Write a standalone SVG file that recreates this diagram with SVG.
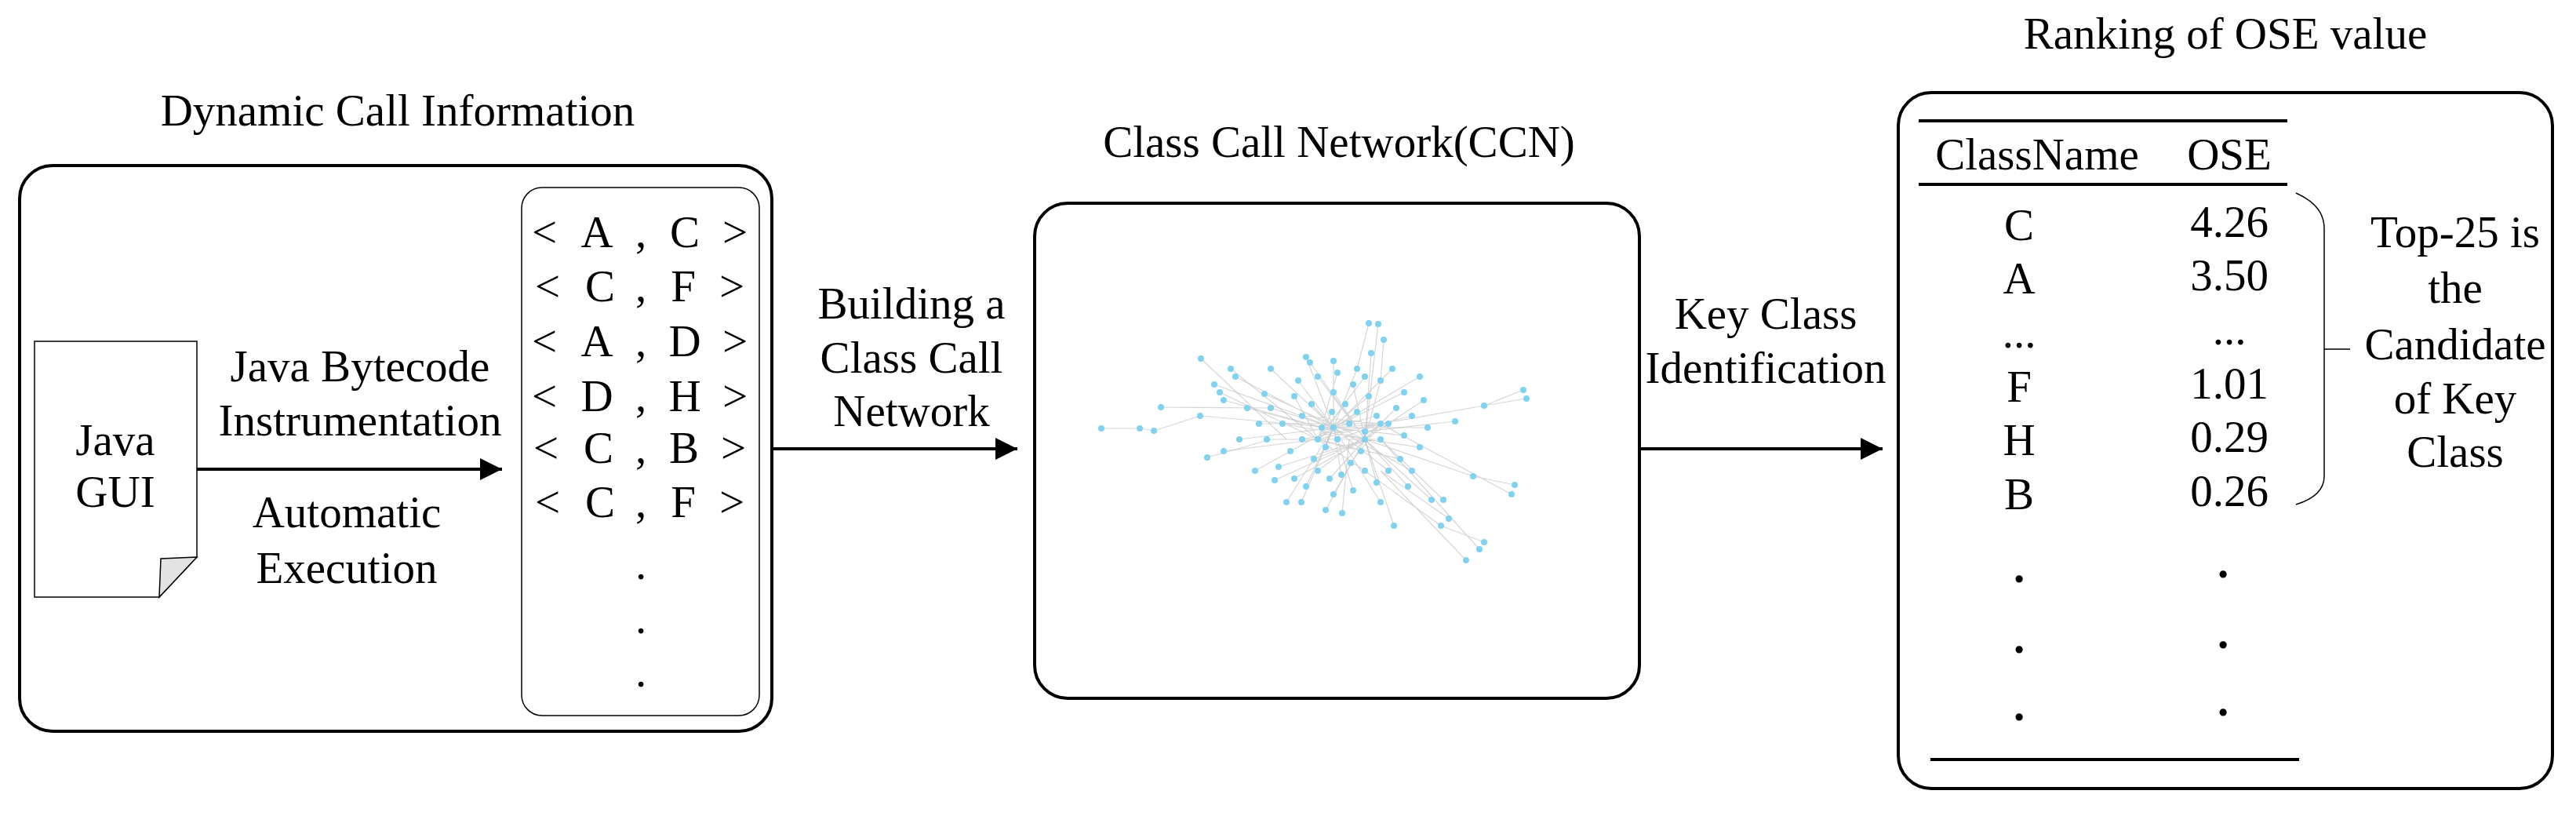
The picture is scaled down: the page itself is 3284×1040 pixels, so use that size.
<svg xmlns="http://www.w3.org/2000/svg" width="3284" height="1040" viewBox="0 0 3284 1040">
<style>
text{font-family:"Liberation Serif","Times New Roman",serif;font-size:57px;fill:#000}
.c{text-anchor:middle}
.box{fill:#fff;stroke:#000;stroke-width:4}
.ln{stroke:#000;stroke-width:4;fill:none}
.e{stroke:#bbb;stroke-width:1.2;fill:none;opacity:.6}
.n{fill:#7fd3ef}
.b{font-weight:bold}
</style>
<defs>
<marker id="ah2" viewBox="0 0 10 10" refX="10" refY="5" markerWidth="28" markerHeight="28" markerUnits="userSpaceOnUse" orient="auto"><path d="M0,0 L10,5 L0,10 z" fill="#000"/></marker>
</defs>
<rect width="3284" height="1040" fill="#fff"/>

<g id="dynamic-call-info">
<text class="c" x="507" y="160">Dynamic Call Information</text>
<rect class="box" x="25" y="211" width="959" height="721" rx="42"/>
</g>
<g id="java-gui">
<path d="M44,435 H251 V710 L203,761 H44 Z" fill="#fff" stroke="#000" stroke-width="1.5"/>
<path d="M251,710 L205,712 L203,761 Z" fill="#e3e3e3" stroke="#000" stroke-width="1.5"/>
<text class="c" x="147" y="580">Java</text>
<text class="c" x="147" y="646">GUI</text>
</g>
<g id="call-list">
<rect x="665" y="239" width="303" height="673" rx="26" fill="#fff" stroke="#000" stroke-width="1.5"/>
<text class="c" y="315"><tspan x="694">&lt;</tspan><tspan x="761">A</tspan><tspan x="817">,</tspan><tspan x="873">C</tspan><tspan x="937">&gt;</tspan></text>
<text class="c" y="384"><tspan x="698">&lt;</tspan><tspan x="765">C</tspan><tspan x="817">,</tspan><tspan x="871">F</tspan><tspan x="933">&gt;</tspan></text>
<text class="c" y="454"><tspan x="694">&lt;</tspan><tspan x="761">A</tspan><tspan x="817">,</tspan><tspan x="873">D</tspan><tspan x="937">&gt;</tspan></text>
<text class="c" y="524"><tspan x="694">&lt;</tspan><tspan x="761">D</tspan><tspan x="817">,</tspan><tspan x="873">H</tspan><tspan x="937">&gt;</tspan></text>
<text class="c" y="590"><tspan x="696">&lt;</tspan><tspan x="763">C</tspan><tspan x="817">,</tspan><tspan x="872">B</tspan><tspan x="935">&gt;</tspan></text>
<text class="c" y="659"><tspan x="698">&lt;</tspan><tspan x="765">C</tspan><tspan x="817">,</tspan><tspan x="871">F</tspan><tspan x="933">&gt;</tspan></text>
<text class="c" x="817" y="738">.</text>
<text class="c" x="817" y="807">.</text>
<text class="c" x="817" y="875">.</text>
</g>
<g id="ccn">
<text class="c" x="1707" y="200">Class Call Network(CCN)</text>
<rect class="box" x="1319" y="259" width="771" height="631" rx="42"/>
<path class="e" d="M1404,546L1453,546L1471,549L1530,530L1700,545M1480,519L1620,520M1531,457L1640,560M1569,470L1680,560M1745,412L1730,470M1757,413L1740,560M1764,433L1760,485M1942,497L1892,517L1760,540M1946,508L1892,517M1931,618L1878,607L1740,560M1927,630L1760,540M1892,691L1837,670L1740,600M1886,700L1760,560M1869,714L1760,600M1777,670L1740,560M1711,654L1720,560M1659,640L1700,545M1539,583L1620,560M1855,537L1740,550M1847,661L1760,600M1825,637L1740,560M1840,637L1760,560"/>
<path class="e" d="M1620,520L1700,545M1635,540L1740,560M1650,505L1680,560M1660,530L1760,540M1672,515L1700,545M1685,545L1740,560M1698,525L1680,560M1705,560L1760,540M1690,570L1700,545M1675,585L1740,560M1660,560L1760,540M1645,575L1700,545M1630,595L1740,560M1615,560L1680,560M1605,540L1760,540M1700,500L1740,560M1715,515L1680,560M1720,540L1700,545M1730,525L1680,560M1740,550L1700,545M1735,575L1680,560M1722,590L1760,540M1710,605L1700,545M1695,610L1740,560M1680,600L1760,540M1665,620L1700,545M1650,610L1740,560M1745,505L1680,560M1755,530L1700,545M1760,560L1680,560M1770,540L1700,545M1780,520L1740,560M1790,555L1700,545M1785,585L1680,560M1770,600L1700,545M1755,615L1740,560M1740,600L1680,560M1725,625L1700,545M1700,630L1740,560M1760,640L1700,545M1690,650L1740,560M1640,640L1700,545M1625,612L1740,560M1600,600L1700,545M1612,502L1740,560M1655,485L1700,545M1680,480L1740,560M1705,475L1680,560M1730,470L1700,545M1760,485L1740,560M1790,500L1700,545M1800,530L1680,560M1810,570L1740,560M1800,600L1700,545M1795,620L1740,560M1775,470L1700,545M1748,450L1740,560M1700,460L1700,545M1670,462L1740,560M1620,470L1700,545M1590,520L1740,560M1580,560L1700,545M1560,575L1680,560M1575,480L1700,545M1555,500L1680,560M1548,490L1700,545M1560,510L1740,560M1810,480L1700,545M1815,510L1740,560M1820,545L1700,545M1740,480L1680,560M1725,490L1740,560M1665,455L1700,545"/>
<g class="n">
<circle cx="1404" cy="546" r="4"/><circle cx="1453" cy="546" r="4"/><circle cx="1471" cy="549" r="4"/><circle cx="1480" cy="519" r="4"/><circle cx="1531" cy="457" r="4"/><circle cx="1569" cy="470" r="4"/><circle cx="1530" cy="530" r="4"/>
<circle cx="1745" cy="412" r="4"/><circle cx="1757" cy="413" r="4"/><circle cx="1764" cy="433" r="4"/><circle cx="1942" cy="497" r="4"/><circle cx="1946" cy="508" r="4"/><circle cx="1931" cy="618" r="4"/><circle cx="1927" cy="630" r="4"/><circle cx="1892" cy="691" r="4"/><circle cx="1886" cy="700" r="4"/><circle cx="1869" cy="714" r="4"/><circle cx="1777" cy="670" r="4"/><circle cx="1711" cy="654" r="4"/><circle cx="1659" cy="640" r="4"/><circle cx="1539" cy="583" r="4"/><circle cx="1855" cy="537" r="4"/><circle cx="1892" cy="517" r="4"/><circle cx="1878" cy="607" r="4"/><circle cx="1847" cy="661" r="4"/><circle cx="1837" cy="670" r="4"/><circle cx="1825" cy="637" r="4"/><circle cx="1840" cy="637" r="4"/>
<circle cx="1620" cy="520" r="4"/><circle cx="1635" cy="540" r="4"/><circle cx="1650" cy="505" r="4"/><circle cx="1660" cy="530" r="4"/><circle cx="1672" cy="515" r="4"/><circle cx="1685" cy="545" r="4"/><circle cx="1698" cy="525" r="4"/><circle cx="1705" cy="560" r="4"/><circle cx="1690" cy="570" r="4"/><circle cx="1675" cy="585" r="4"/><circle cx="1660" cy="560" r="4"/><circle cx="1645" cy="575" r="4"/><circle cx="1630" cy="595" r="4"/><circle cx="1615" cy="560" r="4"/><circle cx="1605" cy="540" r="4"/><circle cx="1700" cy="500" r="4"/><circle cx="1715" cy="515" r="4"/><circle cx="1720" cy="540" r="4"/><circle cx="1730" cy="525" r="4"/><circle cx="1740" cy="550" r="4"/><circle cx="1735" cy="575" r="4"/><circle cx="1722" cy="590" r="4"/><circle cx="1710" cy="605" r="4"/><circle cx="1695" cy="610" r="4"/><circle cx="1680" cy="600" r="4"/><circle cx="1665" cy="620" r="4"/><circle cx="1650" cy="610" r="4"/><circle cx="1745" cy="505" r="4"/><circle cx="1755" cy="530" r="4"/><circle cx="1760" cy="560" r="4"/><circle cx="1770" cy="540" r="4"/><circle cx="1780" cy="520" r="4"/><circle cx="1790" cy="555" r="4"/><circle cx="1785" cy="585" r="4"/><circle cx="1770" cy="600" r="4"/><circle cx="1755" cy="615" r="4"/><circle cx="1740" cy="600" r="4"/><circle cx="1725" cy="625" r="4"/><circle cx="1700" cy="630" r="4"/><circle cx="1760" cy="640" r="4"/><circle cx="1690" cy="650" r="4"/><circle cx="1640" cy="640" r="4"/><circle cx="1625" cy="612" r="4"/><circle cx="1600" cy="600" r="4"/><circle cx="1612" cy="502" r="4"/><circle cx="1655" cy="485" r="4"/><circle cx="1680" cy="480" r="4"/><circle cx="1705" cy="475" r="4"/><circle cx="1730" cy="470" r="4"/><circle cx="1760" cy="485" r="4"/><circle cx="1790" cy="500" r="4"/><circle cx="1800" cy="530" r="4"/><circle cx="1810" cy="570" r="4"/><circle cx="1800" cy="600" r="4"/><circle cx="1795" cy="620" r="4"/><circle cx="1775" cy="470" r="4"/><circle cx="1748" cy="450" r="4"/><circle cx="1700" cy="460" r="4"/><circle cx="1670" cy="462" r="4"/><circle cx="1620" cy="470" r="4"/><circle cx="1590" cy="520" r="4"/><circle cx="1580" cy="560" r="4"/><circle cx="1560" cy="575" r="4"/><circle cx="1575" cy="480" r="4"/><circle cx="1555" cy="500" r="4"/><circle cx="1548" cy="490" r="4"/><circle cx="1560" cy="510" r="4"/><circle cx="1810" cy="480" r="4"/><circle cx="1815" cy="510" r="4"/><circle cx="1820" cy="545" r="4"/><circle cx="1740" cy="480" r="4"/><circle cx="1725" cy="490" r="4"/><circle cx="1665" cy="455" r="4"/><circle cx="1700" cy="545" r="4"/><circle cx="1740" cy="560" r="4"/><circle cx="1680" cy="560" r="4"/><circle cx="1760" cy="540" r="4"/>
</g>
</g>
<g id="ranking">
<text class="c" x="2837" y="62">Ranking of OSE value</text>
<rect class="box" x="2420" y="118" width="834" height="887" rx="42"/>
<line class="ln" x1="2446" y1="154" x2="2916" y2="154"/>
<line class="ln" x1="2446" y1="235" x2="2916" y2="235"/>
<line class="ln" x1="2461" y1="968" x2="2931" y2="968"/>
<text class="c" x="2597" y="216">ClassName</text><text class="c" x="2842" y="216">OSE</text>
<text class="c" x="2574" y="306">C</text><text class="c" x="2842" y="302">4.26</text>
<text class="c" x="2574" y="374">A</text><text class="c" x="2842" y="370">3.50</text>
<text class="c" x="2574" y="443">...</text><text class="c" x="2842" y="439">...</text>
<text class="c" x="2574" y="512">F</text><text class="c" x="2842" y="508">1.01</text>
<text class="c" x="2574" y="580">H</text><text class="c" x="2842" y="576">0.29</text>
<text class="c" x="2574" y="649">B</text><text class="c" x="2842" y="645">0.26</text>
<text class="c b" x="2574" y="742">.</text><text class="c b" x="2834" y="736">.</text>
<text class="c b" x="2574" y="832">.</text><text class="c b" x="2834" y="826">.</text>
<text class="c b" x="2574" y="918">.</text><text class="c b" x="2834" y="912">.</text>
<path d="M2927,246 Q2963,262 2963,291 V607 Q2963,632 2927,643 M2963,445 H2996" fill="none" stroke="#000" stroke-width="1.5"/>
<text class="c" x="3130" y="315">Top-25 is</text>
<text class="c" x="3130" y="386">the</text>
<text class="c" x="3130" y="458">Candidate</text>
<text class="c" x="3130" y="527">of Key</text>
<text class="c" x="3130" y="595">Class</text>
</g>
<g id="connectors">
<line class="ln" x1="251" y1="598" x2="640" y2="598" marker-end="url(#ah2)"/>
<line class="ln" x1="984" y1="572" x2="1297" y2="572" marker-end="url(#ah2)"/>
<line class="ln" x1="2090" y1="572" x2="2400" y2="572" marker-end="url(#ah2)"/>
<text class="c" x="459" y="486">Java Bytecode</text>
<text class="c" x="459" y="555">Instrumentation</text>
<text class="c" x="442" y="672">Automatic</text>
<text class="c" x="442" y="743">Execution</text>
<text class="c" x="1162" y="406">Building a</text>
<text class="c" x="1162" y="475">Class Call</text>
<text class="c" x="1162" y="543">Network</text>
<text class="c" x="2251" y="419">Key Class</text>
<text class="c" x="2251" y="488">Identification</text>
</g>
</svg>
